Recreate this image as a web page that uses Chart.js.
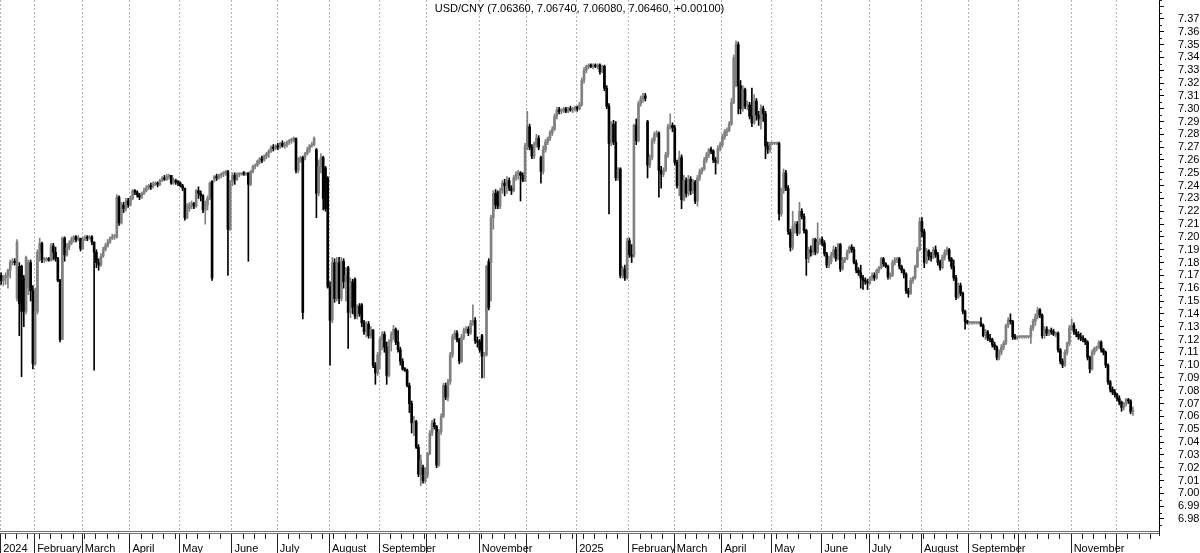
<!DOCTYPE html>
<html>
<head>
<meta charset="utf-8">
<script src="https://cdn.jsdelivr.net/npm/chart.js@4.4.1/dist/chart.umd.min.js"></script>
<style>
  html, body { margin: 0; padding: 0; background: #fff; }
  #wrap { width: 1200px; height: 553px; position: relative; }
</style>
</head>
<body>
<div id="wrap"><canvas id="fxChart"></canvas></div>
<script>
// USD/CNY daily bars, one per weekday starting Thu 11 Jan 2024
const firstDay = "2024-01-11";
const axisDays = 511;

const opens = [
  7.170,7.166,7.168,7.170,7.174,7.180,7.181,7.152,7.177,7.177,
  7.168,7.142,7.160,7.180,7.158,7.101,7.142,7.188,7.195,7.182,
  7.182,7.183,7.182,7.193,7.188,7.183,7.166,7.120,7.199,7.186,
  7.192,7.195,7.198,7.200,7.198,7.199,7.191,7.198,7.200,7.199,
  7.200,7.196,7.188,7.180,7.178,7.185,7.190,7.193,7.196,7.199,
  7.200,7.200,7.231,7.211,7.225,7.222,7.228,7.225,7.230,7.236,
  7.235,7.233,7.231,7.234,7.236,7.238,7.240,7.239,7.241,7.242,
  7.241,7.244,7.246,7.245,7.247,7.248,7.242,7.244,7.243,7.242,
  7.240,7.238,7.215,7.222,7.225,7.226,7.224,7.236,7.234,7.232,
  7.221,7.225,7.230,7.243,7.245,7.247,7.246,7.248,7.249,7.250,
  7.251,7.206,7.243,7.248,7.245,7.249,7.249,7.250,7.249,7.250,
  7.241,7.251,7.255,7.256,7.259,7.261,7.260,7.263,7.265,7.267,
  7.270,7.269,7.271,7.270,7.273,7.271,7.272,7.274,7.275,7.276,
  7.277,7.252,7.260,7.262,7.262,7.265,7.268,7.271,7.272,7.268,
  7.234,7.255,7.262,7.254,7.246,7.161,7.135,7.180,7.152,7.180,
  7.152,7.181,7.165,7.176,7.141,7.165,7.167,7.138,7.146,7.147,
  7.133,7.126,7.132,7.123,7.127,7.100,7.094,7.108,7.120,7.124,
  7.114,7.092,7.118,7.124,7.128,7.118,7.112,7.103,7.097,7.096,
  7.084,7.070,7.055,7.056,7.036,7.015,7.020,7.010,7.014,7.031,
  7.047,7.055,7.052,7.022,7.048,7.060,7.084,7.075,7.087,7.108,
  7.122,7.125,7.120,7.103,7.122,7.127,7.128,7.125,7.133,7.135,
  7.119,7.118,7.123,7.107,7.108,7.181,7.180,7.215,7.234,7.235,
  7.224,7.236,7.242,7.240,7.244,7.238,7.236,7.246,7.249,7.250,
  7.248,7.244,7.271,7.286,7.270,7.263,7.272,7.277,7.262,7.251,
  7.268,7.274,7.277,7.281,7.284,7.294,7.299,7.298,7.299,7.300,
  7.298,7.300,7.299,7.300,7.301,7.300,7.303,7.322,7.330,7.333,
  7.334,7.333,7.334,7.333,7.334,7.329,7.333,7.316,7.302,7.273,
  7.288,7.274,7.246,7.253,7.170,7.175,7.168,7.197,7.186,7.185,
  7.287,7.275,7.304,7.308,7.310,7.290,7.256,7.262,7.275,7.280,
  7.281,7.252,7.249,7.252,7.264,7.286,7.287,7.285,7.258,7.240,
  7.262,7.229,7.244,7.234,7.245,7.236,7.243,7.228,7.246,7.251,
  7.253,7.260,7.264,7.268,7.267,7.260,7.258,7.269,7.272,7.278,
  7.282,7.283,7.288,7.305,7.318,7.350,7.318,7.300,7.315,7.302,
  7.303,7.294,7.289,7.306,7.295,7.292,7.300,7.296,7.271,7.268,
  7.273,7.273,7.273,7.273,7.218,7.236,7.250,7.238,7.204,7.192,
  7.208,7.210,7.203,7.220,7.216,7.205,7.183,7.190,7.188,7.198,
  7.188,7.196,7.198,7.195,7.187,7.178,7.181,7.186,7.190,7.183,
  7.194,7.175,7.182,7.183,7.188,7.192,7.190,7.180,7.174,7.172,
  7.168,7.166,7.165,7.164,7.168,7.170,7.168,7.174,7.176,7.183,
  7.179,7.177,7.169,7.170,7.180,7.182,7.183,7.177,7.174,7.171,
  7.158,7.156,7.166,7.168,7.177,7.190,7.212,7.204,7.180,7.189,
  7.185,7.184,7.190,7.186,7.180,7.176,7.184,7.188,7.190,7.183,
  7.177,7.168,7.153,7.162,7.156,7.142,7.134,7.133,7.133,7.133,
  7.133,7.133,7.133,7.131,7.123,7.126,7.121,7.120,7.116,7.114,
  7.106,7.110,7.114,7.117,7.131,7.135,7.134,7.122,7.121,7.122,
  7.122,7.122,7.122,7.122,7.122,7.129,7.134,7.138,7.143,7.139,
  7.123,7.128,7.125,7.127,7.126,7.124,7.125,7.112,7.103,7.100,
  7.110,7.117,7.129,7.131,7.126,7.124,7.122,7.121,7.120,7.118,
  7.106,7.097,7.110,7.113,7.114,7.118,7.112,7.110,7.100,7.087,
  7.081,7.079,7.077,7.074,7.071,7.067,7.070,7.073,7.072,7.0636
];

const highs = [
  7.172,7.170,7.172,7.175,7.182,7.183,7.183,7.198,7.180,7.178,
  7.170,7.185,7.182,7.182,7.162,7.160,7.190,7.199,7.196,7.184,
  7.184,7.184,7.195,7.195,7.192,7.184,7.167,7.200,7.200,7.195,
  7.197,7.200,7.201,7.201,7.201,7.199,7.200,7.201,7.201,7.201,
  7.201,7.196,7.190,7.183,7.187,7.192,7.195,7.198,7.200,7.202,
  7.202,7.233,7.232,7.227,7.227,7.230,7.230,7.232,7.237,7.237,
  7.236,7.234,7.235,7.238,7.240,7.241,7.242,7.243,7.243,7.243,
  7.245,7.247,7.248,7.249,7.249,7.248,7.246,7.245,7.244,7.243,
  7.241,7.238,7.226,7.227,7.228,7.227,7.237,7.239,7.236,7.233,
  7.228,7.232,7.243,7.244,7.248,7.249,7.249,7.250,7.251,7.252,
  7.252,7.244,7.250,7.250,7.250,7.250,7.250,7.251,7.250,7.250,
  7.252,7.256,7.257,7.260,7.262,7.263,7.264,7.266,7.268,7.271,
  7.272,7.272,7.273,7.274,7.275,7.274,7.275,7.276,7.277,7.278,
  7.277,7.262,7.263,7.263,7.266,7.270,7.272,7.274,7.278,7.269,
  7.260,7.265,7.263,7.255,7.247,7.165,7.184,7.183,7.184,7.184,
  7.184,7.183,7.176,7.177,7.168,7.167,7.168,7.147,7.148,7.148,
  7.135,7.134,7.134,7.130,7.128,7.102,7.110,7.122,7.126,7.126,
  7.118,7.120,7.126,7.131,7.129,7.127,7.114,7.105,7.098,7.097,
  7.086,7.072,7.060,7.057,7.038,7.030,7.022,7.020,7.032,7.049,
  7.057,7.058,7.053,7.050,7.062,7.086,7.086,7.089,7.110,7.124,
  7.127,7.127,7.121,7.124,7.129,7.130,7.130,7.135,7.147,7.137,
  7.122,7.120,7.124,7.110,7.178,7.183,7.217,7.236,7.237,7.236,
  7.238,7.244,7.245,7.247,7.246,7.240,7.248,7.251,7.252,7.251,
  7.250,7.273,7.298,7.288,7.272,7.274,7.280,7.279,7.263,7.271,
  7.276,7.278,7.283,7.286,7.296,7.301,7.301,7.300,7.301,7.301,
  7.301,7.302,7.301,7.302,7.302,7.305,7.324,7.332,7.334,7.335,
  7.335,7.335,7.335,7.335,7.335,7.334,7.334,7.318,7.304,7.290,
  7.291,7.290,7.254,7.254,7.177,7.178,7.199,7.199,7.194,7.288,
  7.292,7.306,7.310,7.312,7.312,7.291,7.264,7.277,7.282,7.283,
  7.282,7.255,7.254,7.266,7.288,7.296,7.289,7.287,7.260,7.267,
  7.264,7.248,7.246,7.248,7.247,7.245,7.244,7.248,7.253,7.254,
  7.262,7.266,7.269,7.270,7.268,7.262,7.271,7.274,7.280,7.284,
  7.285,7.290,7.308,7.342,7.353,7.352,7.322,7.318,7.316,7.306,
  7.305,7.316,7.311,7.308,7.298,7.303,7.302,7.298,7.274,7.274,
  7.274,7.274,7.274,7.274,7.238,7.253,7.252,7.240,7.206,7.220,
  7.212,7.212,7.227,7.222,7.218,7.206,7.192,7.193,7.199,7.199,
  7.211,7.199,7.200,7.197,7.188,7.185,7.188,7.193,7.192,7.195,
  7.195,7.184,7.184,7.190,7.193,7.194,7.192,7.182,7.176,7.178,
  7.170,7.168,7.167,7.169,7.172,7.172,7.175,7.177,7.184,7.184,
  7.180,7.178,7.172,7.182,7.184,7.184,7.184,7.178,7.175,7.172,
  7.160,7.168,7.169,7.178,7.192,7.215,7.215,7.206,7.191,7.190,
  7.188,7.192,7.193,7.188,7.182,7.186,7.190,7.192,7.191,7.184,
  7.182,7.170,7.164,7.164,7.157,7.143,7.135,7.134,7.134,7.134,
  7.134,7.134,7.137,7.132,7.128,7.127,7.124,7.121,7.118,7.115,
  7.112,7.116,7.119,7.132,7.137,7.140,7.135,7.124,7.123,7.123,
  7.123,7.123,7.123,7.123,7.131,7.136,7.140,7.145,7.144,7.140,
  7.130,7.130,7.128,7.129,7.128,7.126,7.126,7.113,7.105,7.112,
  7.118,7.131,7.136,7.133,7.128,7.126,7.125,7.123,7.121,7.119,
  7.107,7.112,7.114,7.115,7.119,7.119,7.113,7.111,7.101,7.088,
  7.083,7.081,7.078,7.076,7.072,7.071,7.074,7.074,7.073,7.0674
];

const lows = [
  7.163,7.162,7.163,7.160,7.168,7.178,7.178,7.150,7.123,7.091,
  7.130,7.140,7.155,7.150,7.097,7.100,7.140,7.181,7.180,7.180,
  7.181,7.181,7.181,7.182,7.181,7.165,7.118,7.120,7.181,7.185,
  7.190,7.194,7.196,7.196,7.197,7.189,7.190,7.197,7.197,7.198,
  7.194,7.096,7.176,7.174,7.177,7.184,7.189,7.192,7.195,7.198,
  7.198,7.199,7.209,7.210,7.219,7.220,7.223,7.224,7.229,7.233,
  7.231,7.229,7.230,7.233,7.235,7.237,7.237,7.238,7.240,7.239,
  7.240,7.243,7.244,7.244,7.245,7.241,7.241,7.241,7.240,7.239,
  7.236,7.213,7.214,7.220,7.222,7.222,7.223,7.230,7.228,7.219,
  7.210,7.221,7.229,7.166,7.243,7.244,7.245,7.246,7.247,7.248,
  7.170,7.205,7.240,7.241,7.244,7.247,7.248,7.248,7.248,7.181,
  7.240,7.250,7.253,7.255,7.257,7.258,7.259,7.261,7.262,7.266,
  7.267,7.268,7.268,7.269,7.270,7.269,7.270,7.272,7.273,7.274,
  7.250,7.250,7.258,7.136,7.260,7.264,7.266,7.270,7.271,7.215,
  7.232,7.250,7.221,7.220,7.160,7.100,7.133,7.149,7.150,7.148,
  7.150,7.160,7.150,7.113,7.137,7.140,7.136,7.136,7.138,7.130,
  7.124,7.122,7.121,7.121,7.098,7.085,7.092,7.097,7.112,7.110,
  7.085,7.091,7.111,7.120,7.116,7.110,7.100,7.096,7.095,7.083,
  7.063,7.047,7.045,7.035,7.013,7.006,7.008,7.008,7.012,7.030,
  7.045,7.050,7.020,7.021,7.046,7.059,7.073,7.072,7.085,7.106,
  7.120,7.118,7.101,7.102,7.120,7.125,7.123,7.124,7.131,7.117,
  7.114,7.110,7.090,7.090,7.107,7.143,7.150,7.206,7.222,7.222,
  7.222,7.234,7.232,7.234,7.236,7.233,7.235,7.244,7.245,7.228,
  7.243,7.243,7.268,7.268,7.261,7.261,7.270,7.268,7.242,7.249,
  7.266,7.272,7.275,7.279,7.283,7.292,7.296,7.296,7.297,7.297,
  7.297,7.298,7.297,7.298,7.298,7.299,7.302,7.320,7.328,7.331,
  7.332,7.331,7.332,7.331,7.327,7.328,7.314,7.300,7.218,7.271,
  7.272,7.244,7.244,7.168,7.168,7.166,7.167,7.184,7.180,7.184,
  7.272,7.274,7.302,7.305,7.306,7.246,7.254,7.260,7.273,7.278,
  7.231,7.238,7.247,7.251,7.262,7.284,7.282,7.256,7.238,7.232,
  7.222,7.228,7.231,7.232,7.233,7.234,7.226,7.224,7.244,7.249,
  7.252,7.258,7.262,7.265,7.258,7.249,7.257,7.267,7.270,7.276,
  7.279,7.282,7.287,7.304,7.317,7.296,7.296,7.298,7.300,7.299,
  7.292,7.286,7.288,7.291,7.287,7.284,7.290,7.261,7.265,7.266,
  7.272,7.272,7.272,7.213,7.216,7.234,7.236,7.202,7.189,7.190,
  7.203,7.201,7.202,7.214,7.203,7.170,7.180,7.185,7.186,7.186,
  7.187,7.194,7.193,7.185,7.176,7.176,7.179,7.184,7.181,7.182,
  7.173,7.174,7.180,7.182,7.187,7.188,7.179,7.172,7.170,7.160,
  7.159,7.163,7.159,7.163,7.166,7.166,7.167,7.172,7.175,7.177,
  7.176,7.167,7.167,7.169,7.178,7.180,7.175,7.172,7.168,7.156,
  7.153,7.155,7.164,7.167,7.176,7.189,7.200,7.176,7.179,7.182,
  7.181,7.183,7.184,7.178,7.174,7.175,7.182,7.186,7.181,7.175,
  7.166,7.151,7.152,7.154,7.140,7.128,7.132,7.132,7.132,7.132,
  7.132,7.132,7.130,7.122,7.120,7.119,7.118,7.114,7.112,7.104,
  7.104,7.108,7.112,7.116,7.129,7.132,7.120,7.120,7.120,7.121,
  7.121,7.121,7.121,7.121,7.117,7.127,7.131,7.136,7.137,7.121,
  7.121,7.123,7.123,7.124,7.123,7.122,7.110,7.101,7.098,7.099,
  7.108,7.115,7.127,7.124,7.122,7.120,7.119,7.118,7.116,7.104,
  7.094,7.096,7.108,7.111,7.113,7.110,7.108,7.098,7.085,7.079,
  7.077,7.075,7.072,7.069,7.064,7.065,7.068,7.070,7.062,7.0608
];

const closes = [
  7.166,7.168,7.170,7.174,7.180,7.181,7.180,7.196,7.148,7.142,
  7.142,7.184,7.180,7.158,7.101,7.142,7.188,7.195,7.182,7.182,
  7.183,7.182,7.193,7.188,7.183,7.166,7.120,7.199,7.186,7.192,
  7.195,7.198,7.200,7.198,7.199,7.191,7.198,7.200,7.199,7.200,
  7.196,7.188,7.180,7.178,7.185,7.190,7.193,7.196,7.199,7.200,
  7.200,7.231,7.211,7.225,7.222,7.228,7.225,7.230,7.236,7.235,
  7.233,7.231,7.234,7.236,7.238,7.240,7.239,7.241,7.242,7.241,
  7.244,7.246,7.245,7.247,7.248,7.242,7.244,7.243,7.242,7.240,
  7.238,7.215,7.222,7.225,7.226,7.224,7.236,7.234,7.232,7.221,
  7.225,7.230,7.242,7.168,7.247,7.246,7.248,7.249,7.250,7.251,
  7.206,7.243,7.248,7.245,7.249,7.249,7.250,7.249,7.250,7.241,
  7.251,7.255,7.256,7.259,7.261,7.260,7.263,7.265,7.267,7.270,
  7.269,7.271,7.270,7.273,7.271,7.272,7.274,7.275,7.276,7.277,
  7.252,7.260,7.262,7.141,7.265,7.268,7.271,7.272,7.277,7.234,
  7.255,7.262,7.230,7.222,7.161,7.135,7.180,7.152,7.180,7.152,
  7.181,7.165,7.170,7.141,7.165,7.145,7.138,7.146,7.140,7.133,
  7.126,7.132,7.123,7.128,7.100,7.094,7.108,7.120,7.124,7.114,
  7.092,7.118,7.124,7.128,7.118,7.112,7.103,7.097,7.096,7.084,
  7.070,7.055,7.056,7.036,7.015,7.026,7.010,7.014,7.031,7.047,
  7.055,7.052,7.022,7.048,7.060,7.084,7.075,7.087,7.108,7.122,
  7.125,7.120,7.103,7.122,7.127,7.128,7.125,7.133,7.135,7.119,
  7.118,7.112,7.107,7.108,7.177,7.145,7.215,7.234,7.225,7.224,
  7.236,7.242,7.240,7.244,7.238,7.236,7.246,7.249,7.250,7.248,
  7.244,7.271,7.286,7.270,7.263,7.272,7.277,7.270,7.251,7.268,
  7.274,7.277,7.281,7.284,7.294,7.299,7.298,7.299,7.300,7.298,
  7.300,7.299,7.300,7.301,7.300,7.303,7.322,7.330,7.333,7.334,
  7.333,7.334,7.333,7.334,7.329,7.333,7.316,7.302,7.273,7.288,
  7.274,7.246,7.253,7.170,7.175,7.168,7.197,7.186,7.185,7.287,
  7.275,7.304,7.308,7.310,7.308,7.256,7.262,7.275,7.280,7.281,
  7.252,7.249,7.252,7.264,7.286,7.287,7.285,7.258,7.240,7.262,
  7.229,7.244,7.234,7.245,7.236,7.243,7.228,7.246,7.251,7.253,
  7.260,7.264,7.268,7.267,7.260,7.258,7.269,7.272,7.278,7.282,
  7.283,7.288,7.305,7.340,7.350,7.318,7.300,7.315,7.302,7.303,
  7.294,7.289,7.306,7.295,7.292,7.300,7.296,7.271,7.268,7.273,
  7.273,7.273,7.273,7.218,7.236,7.250,7.238,7.204,7.192,7.208,
  7.210,7.203,7.220,7.216,7.205,7.183,7.190,7.188,7.198,7.188,
  7.196,7.198,7.195,7.187,7.178,7.181,7.186,7.190,7.183,7.194,
  7.175,7.182,7.183,7.188,7.192,7.190,7.180,7.174,7.172,7.168,
  7.166,7.165,7.164,7.168,7.170,7.168,7.174,7.176,7.183,7.179,
  7.177,7.169,7.170,7.180,7.182,7.183,7.177,7.174,7.171,7.158,
  7.156,7.166,7.168,7.177,7.190,7.212,7.204,7.180,7.189,7.185,
  7.184,7.190,7.186,7.180,7.176,7.184,7.188,7.190,7.183,7.177,
  7.168,7.153,7.162,7.156,7.142,7.134,7.133,7.133,7.133,7.133,
  7.133,7.133,7.131,7.123,7.126,7.121,7.120,7.116,7.114,7.106,
  7.110,7.114,7.117,7.131,7.135,7.134,7.122,7.121,7.122,7.122,
  7.122,7.122,7.122,7.122,7.129,7.134,7.138,7.143,7.139,7.123,
  7.128,7.125,7.127,7.126,7.124,7.125,7.112,7.103,7.100,7.110,
  7.117,7.129,7.131,7.126,7.124,7.122,7.121,7.120,7.118,7.106,
  7.097,7.110,7.113,7.114,7.118,7.112,7.110,7.100,7.087,7.081,
  7.079,7.077,7.074,7.071,7.067,7.070,7.073,7.072,7.0636,7.0646
];

// right-hand price ticks
const priceTicks = [
  6.98,6.99,7.00,7.01,7.02,7.03,7.04,7.05,7.06,7.07,
  7.08,7.09,7.10,7.11,7.12,7.13,7.14,7.15,7.16,7.17,
  7.18,7.19,7.20,7.21,7.22,7.23,7.24,7.25,7.26,7.27,
  7.28,7.29,7.30,7.31,7.32,7.33,7.34,7.35,7.36,7.37
];

// one label per month start (first entry = first bar); blanks where the original skips
const monthLabels = [
  "2024","February","March","April","May","June","July","August","September","","November","",
  "2025","February","March","April","May","June","July","August","September","","November",""
];

const fontFamily = "'Liberation Sans', Arial, sans-serif";
const upColor = "#808080";
const downColor = "#000000";

// weekday calendar for the x axis
const dayLabels = [];
const isMonthStart = [];
const isMonday = [];
const tickText = [];
{
  let d = new Date(firstDay + "T00:00:00Z");
  let prevMonth = -1;
  let m = 0;
  while (dayLabels.length < axisDays) {
    const wd = d.getUTCDay();
    if (wd !== 0 && wd !== 6) {
      const start = d.getUTCMonth() !== prevMonth;
      dayLabels.push(d.toISOString().slice(0, 10));
      isMonthStart.push(start);
      isMonday.push(wd === 1);
      tickText.push(start ? (monthLabels[m++] || "") : "");
      prevMonth = d.getUTCMonth();
    }
    d.setUTCDate(d.getUTCDate() + 1);
  }
}

const barColors = closes.map((c, i) => c >= opens[i] ? upColor : downColor);

const n = closes.length;
const last = n - 1;
const change = closes[last] - closes[last - 1];
const titleText = "USD/CNY (" + opens[last].toFixed(5) + ", " + highs[last].toFixed(5) + ", " +
  lows[last].toFixed(5) + ", " + closes[last].toFixed(5) + ", " + (change >= 0 ? "+" : "") + change.toFixed(5) + ")";

function slotEdge(x, i) {
  const half = (x.getPixelForValue(1) - x.getPixelForValue(0)) / 2;
  return Math.round(x.getPixelForValue(i) - half) + 0.5;
}

const decorations = {
  id: "decorations",
  beforeDatasetsDraw(chart) {
    const { ctx, chartArea, scales } = chart;
    ctx.save();
    // dotted month gridlines
    ctx.strokeStyle = "#b4b4b4";
    ctx.lineWidth = 1;
    ctx.setLineDash([2, 2]);
    ctx.beginPath();
    for (let i = 0; i < dayLabels.length; i++) {
      if (!isMonthStart[i]) continue;
      const px = slotEdge(scales.x, i);
      ctx.moveTo(px, chartArea.top);
      ctx.lineTo(px, chartArea.bottom);
    }
    ctx.stroke();
    ctx.restore();
  },
  afterDraw(chart) {
    const { ctx, chartArea, scales } = chart;
    const x = scales.x, y = scales.y;
    const bottom = Math.round(chartArea.bottom);

    ctx.save();
    // double rule under the plot
    ctx.lineWidth = 1;
    ctx.strokeStyle = "#707070";
    ctx.beginPath();
    ctx.moveTo(chartArea.left, bottom + 0.5);
    ctx.lineTo(chartArea.right + 1, bottom + 0.5);
    ctx.moveTo(chartArea.left, bottom + 2.5);
    ctx.lineTo(chartArea.right + 1, bottom + 2.5);
    ctx.stroke();

    // month separators and weekly ticks in the date band
    ctx.strokeStyle = "#202020";
    ctx.beginPath();
    for (let i = 0; i < dayLabels.length; i++) {
      const px = slotEdge(x, i);
      if (isMonthStart[i]) {
        ctx.moveTo(px, bottom + 3);
        ctx.lineTo(px, chart.height);
      } else if (isMonday[i]) {
        ctx.moveTo(px, bottom + 3);
        ctx.lineTo(px, bottom + 8);
      }
    }
    // half-step ticks on the price axis, plus the unlabeled ones near the edges
    const ax = Math.round(y.left);
    for (let k = 0; k <= 84; k++) {
      const v = 6.97 + k * 0.005;
      const major = k % 2 === 0;
      if (major && v > 6.975 && v < 7.375) continue;
      const py = Math.round(y.getPixelForValue(v)) + 0.5;
      if (py < chartArea.top || py > bottom) continue;
      ctx.moveTo(ax, py);
      ctx.lineTo(ax + (major ? 5 : 3), py);
    }
    ctx.moveTo(ax + 0.5, bottom);
    ctx.lineTo(ax + 0.5, bottom + 5);
    ctx.stroke();

    // heading
    ctx.fillStyle = "#000";
    ctx.font = "11px " + fontFamily;
    ctx.textAlign = "center";
    ctx.textBaseline = "middle";
    ctx.fillText(titleText, (chartArea.left + chartArea.right) / 2, chartArea.top + 9);
    ctx.restore();
  }
};

new Chart(document.getElementById("fxChart"), {
  type: "bar",
  data: {
    labels: dayLabels,
    datasets: [
      {
        label: "range",
        data: lows.map((l, i) => [l, highs[i]]),
        backgroundColor: barColors,
        barThickness: 1,
        grouped: false,
        order: 2
      },
      {
        label: "body",
        data: opens.map((o, i) => [o, closes[i]]),
        backgroundColor: barColors,
        barThickness: 2,
        minBarLength: 1,
        grouped: false,
        order: 1
      }
    ]
  },
  options: {
    responsive: true,
    maintainAspectRatio: false,
    animation: false,
    layout: { padding: 0 },
    plugins: {
      legend: { display: false },
      tooltip: { enabled: false }
    },
    scales: {
      x: {
        offset: true,
        grid: { display: false, drawTicks: false },
        border: { display: false },
        ticks: {
          autoSkip: false,
          maxRotation: 0,
          minRotation: 0,
          align: "start",
          labelOffset: 2,
          padding: 11,
          color: "#000",
          font: { family: fontFamily, size: 11 },
          callback: (v, i) => tickText[i]
        },
        afterFit: s => {
          s.height = 22;
          s.paddingLeft = 0; s.paddingRight = 0;
        }
      },
      y: {
        position: "right",
        min: 6.9706,
        max: 7.3848,
        afterBuildTicks: s => { s.ticks = priceTicks.map(v => ({ value: v })); },
        grid: { drawOnChartArea: false, tickLength: 5, color: "#000" },
        border: { color: "#000" },
        ticks: {
          autoSkip: false,
          padding: 14,
          color: "#000",
          font: { family: fontFamily, size: 11 },
          callback: v => v.toFixed(2)
        },
        afterFit: s => {
          s.width = 41;
          s.paddingTop = 0; s.paddingBottom = 0;
        }
      }
    }
  },
  plugins: [decorations]
});
</script>
</body>
</html>
